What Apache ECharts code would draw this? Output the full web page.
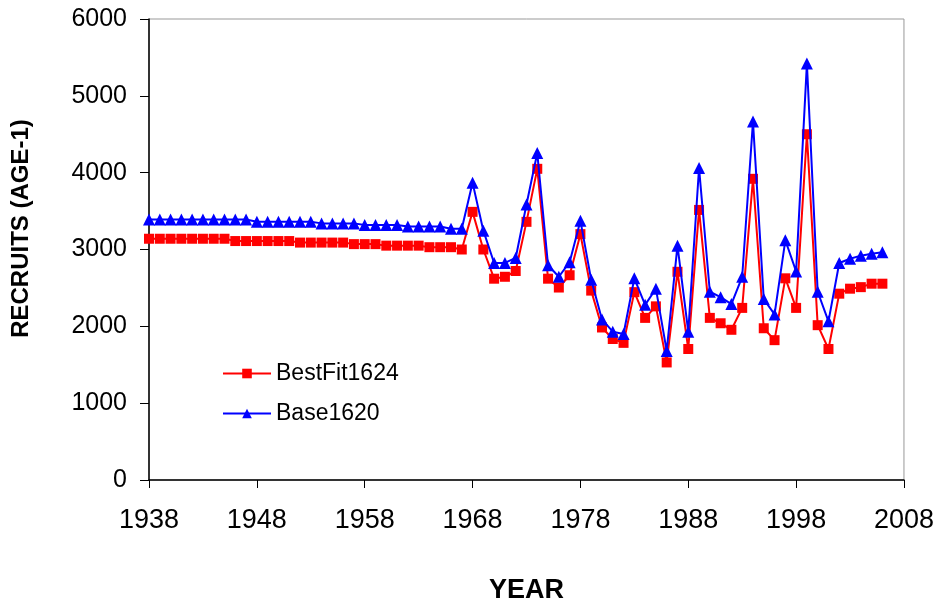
<!DOCTYPE html>
<html>
<head>
<meta charset="utf-8">
<script src="https://cdn.jsdelivr.net/npm/echarts@6/dist/echarts.min.js"></script>
<style>html,body{margin:0;padding:0;background:#fff;}#c{width:937px;height:609px;}</style>
</head>
<body>
<div id="c"></div>
<script>
var axisYears = [1938,1939,1940,1941,1942,1943,1944,1945,1946,1947,1948,1949,1950,1951,1952,1953,1954,1955,1956,1957,1958,1959,1960,1961,1962,1963,1964,1965,1966,1967,1968,1969,1970,1971,1972,1973,1974,1975,1976,1977,1978,1979,1980,1981,1982,1983,1984,1985,1986,1987,1988,1989,1990,1991,1992,1993,1994,1995,1996,1997,1998,1999,2000,2001,2002,2003,2004,2005,2006,2007,2008];
var bestFit1624 = [3140,3140,3140,3140,3140,3140,3140,3140,3110,3110,3110,3110,3110,3110,3090,3090,3090,3090,3090,3070,3070,3070,3050,3050,3050,3050,3030,3030,3030,3000,
  3490,3000,2620,2645,2720,3360,4050,2620,2505,2665,3200,2465,1985,1835,1785,2445,2110,2260,1530,2710,1705,3515,2110,2040,1955,2240,3920,1975,1820,2625,2240,4500,2015,1705,2425,2490,2510,2555,2555];
var base1620 = [3390,3390,3390,3390,3390,3390,3390,3390,3390,3390,3360,3360,3360,3360,3360,3360,3340,3340,3340,3340,3320,3320,3320,3320,3300,3300,3300,3300,3270,3270,
  3870,3245,2825,2825,2890,3585,4255,2795,2645,2835,3375,2605,2090,1930,1900,2625,2280,2490,1680,3050,1930,4060,2450,2380,2290,2645,4665,2355,2155,3120,2715,5420,2450,2065,2825,2880,2920,2945,2965];
var yTicks = [0,1000,2000,3000,4000,5000,6000];

var chart = echarts.init(document.getElementById('c'), null, {renderer:'canvas'});
var font = 'Liberation Sans, Arial, sans-serif';
chart.setOption({
  animation: false,
  backgroundColor: '#fff',
  grid: {left:149, right:31, top:19, bottom:121, show:true, borderColor:'#999', borderWidth:1, backgroundColor:'transparent'},
  legend: {
    orient:'vertical', left:217, top:357, itemWidth:48, itemHeight:12, itemGap:17,
    textStyle:{fontFamily:font, fontSize:23, color:'#000'},
    data:['BestFit1624','Base1620']
  },
  xAxis: {
    type:'category', data:axisYears, boundaryGap:false,
    name:'YEAR', nameLocation:'middle', nameGap:97,
    nameTextStyle:{fontFamily:font, fontSize:27, fontWeight:'bold', color:'#000'},
    axisLine:{lineStyle:{color:'#000', width:1.5}},
    axisTick:{interval:9, length:8, lineStyle:{color:'#000'}},
    axisLabel:{interval:9, margin:27, fontFamily:font, fontSize:27, color:'#000'},
    splitLine:{show:false}
  },
  yAxis: {
    type:'value', min:yTicks[0], max:yTicks[yTicks.length-1], interval:1000,
    name:'RECRUITS (AGE-1)', nameLocation:'middle', nameGap:116, nameRotate:90,
    nameTextStyle:{fontFamily:font, fontSize:24, fontWeight:'bold', color:'#000', padding:[0,0,0,42]},
    axisLine:{show:true, lineStyle:{color:'#000', width:1.5}},
    axisTick:{show:true, length:9, lineStyle:{color:'#000'}},
    axisLabel:{margin:22, fontFamily:font, fontSize:25, color:'#000', formatter:function(v){return String(v);}},
    splitLine:{show:false}
  },
  series: [
    {name:'BestFit1624', type:'line', data:bestFit1624, symbol:'rect', symbolSize:10, showSymbol:true, showAllSymbol:true,
     lineStyle:{color:'#ff0000', width:2}, itemStyle:{color:'#ff0000'}, z:2},
    {name:'Base1620', type:'line', data:base1620, symbol:'triangle', symbolSize:12, showSymbol:true, showAllSymbol:true,
     lineStyle:{color:'#0000ff', width:2}, itemStyle:{color:'#0000ff'}, z:3}
  ]
});
</script>
</body>
</html>
